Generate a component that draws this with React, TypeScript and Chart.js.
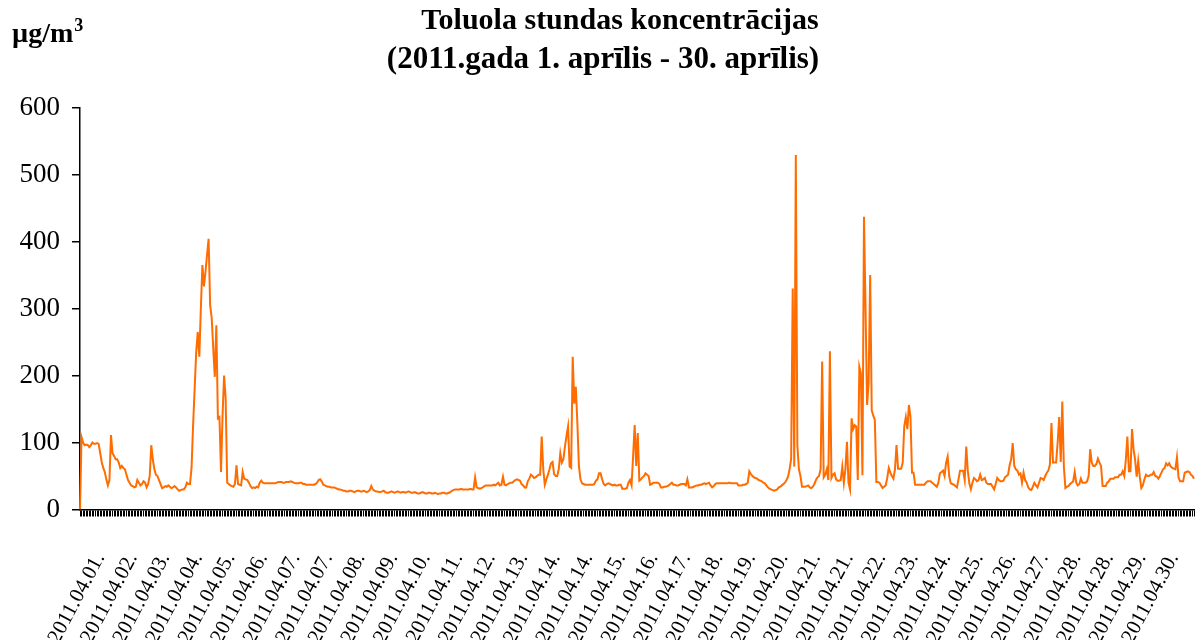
import React, { useEffect, useRef } from "react";
import { Chart, registerables } from "chart.js";

Chart.register(...registerables);

const titleLines = ["Toluola stundas koncentrācijas", "(2011.gada 1. aprīlis - 30. aprīlis)"];
const unitText = "µg/m";
const unitSup = "3";

const tickLabels = [
  "2011.04.01.", "2011.04.02.", "2011.04.03.", "2011.04.04.", "2011.04.05.", "2011.04.06.",
  "2011.04.07.", "2011.04.07.", "2011.04.08.", "2011.04.09.", "2011.04.10.", "2011.04.11.",
  "2011.04.12.", "2011.04.13.", "2011.04.14.", "2011.04.14.", "2011.04.15.", "2011.04.16.",
  "2011.04.17.", "2011.04.18.", "2011.04.19.", "2011.04.20.", "2011.04.21.", "2011.04.21.",
  "2011.04.22.", "2011.04.23.", "2011.04.24.", "2011.04.25.", "2011.04.26.", "2011.04.27.",
  "2011.04.28.", "2011.04.28.", "2011.04.29.", "2011.04.30.",
];
const LABEL_EVERY = 21;
const LABEL_OFFSET = 13;

const yTicks = [0, 100, 200, 300, 400, 500, 600];

// hourly values, µg/m3, one array per day (24 hours)
const day01 = [0,108,100,96,97,96,93,96,100,98,98,99,98,85,71,62,56,45,36,44,111,84,80,75];
const day02 = [75,70,62,65,62,60,52,44,40,36,35,33,34,44,40,36,38,42,40,33,38,50,96,75];
const day03 = [60,52,50,44,38,32,33,35,34,36,34,32,33,35,33,30,28,29,30,30,33,40,38,38];
const day04 = [62,126,180,235,265,228,300,365,333,355,380,404,305,286,240,198,275,136,138,56,140,200,166,40];
const day05 = [38,36,35,34,38,66,38,37,36,56,46,45,44,40,35,32,33,32,34,33,40,43,40,39];
const day06 = [39,39,39,39,39,39,39,40,41,41,41,40,40,41,41,41,42,41,40,39,39,39,40,40];
const day07 = [38,38,37,37,37,37,37,37,38,40,44,45,42,37,36,35,34,34,33,33,33,32,31,30];
const day08 = [30,29,28,28,27,27,28,28,27,26,27,28,28,27,27,28,27,26,27,29,35,30,28,27];
const day09 = [27,26,26,27,28,26,25,25,26,27,26,25,26,27,26,25,26,26,25,26,27,26,25,25];
const day10 = [26,25,24,24,25,26,25,24,24,25,25,24,24,25,24,23,24,24,25,25,24,24,25,26];
const day11 = [28,29,30,30,30,30,31,30,30,30,30,30,31,30,30,48,33,32,31,32,33,35,36,36];
const day12 = [36,36,36,37,36,38,40,36,37,49,37,36,38,39,40,40,42,44,45,44,43,38,36,33];
const day13 = [33,42,46,52,50,47,48,50,52,52,109,60,37,45,52,60,69,71,53,50,50,60,84,70];
const day14 = [75,94,110,124,64,62,228,158,183,130,65,45,39,38,37,37,37,37,37,37,38,43,45,54];
const day15 = [54,45,38,36,38,39,38,37,36,37,36,36,37,37,31,31,31,32,40,44,36,80,126,65];
const day16 = [114,43,45,48,50,54,52,50,37,38,40,40,40,40,38,33,33,34,34,35,36,38,40,37];
const day17 = [37,36,36,37,38,38,38,36,45,33,33,33,34,35,36,36,37,37,38,39,38,39,40,36];
const day18 = [33,35,38,39,39,39,39,39,39,39,39,40,39,39,39,39,39,36,36,36,37,37,38,40];
const day19 = [57,53,50,48,47,46,44,43,42,40,39,36,33,31,30,29,28,29,30,33,34,36,38,40];
const day20 = [44,49,60,76,330,64,529,96,60,50,34,34,34,35,36,33,32,34,38,44,48,50,60,221];
const day21 = [48,52,60,44,236,47,52,54,45,43,43,44,64,40,60,101,40,30,136,120,126,124,44,213];
const day22 = [203,51,437,300,156,189,350,148,140,134,41,41,40,36,32,34,36,47,62,55,50,46,60,96];
const day23 = [61,61,61,70,124,138,120,156,138,55,55,37,37,37,37,37,37,37,40,42,42,42,40,38];
const day24 = [36,34,40,54,56,58,50,70,79,50,39,38,37,35,33,45,58,58,58,44,94,58,39,30];
const day25 = [40,47,45,42,44,52,44,45,47,40,38,38,38,34,30,38,47,44,42,42,43,48,50,52];
const day26 = [66,75,99,65,60,58,52,54,40,55,44,40,33,30,29,34,40,36,33,40,47,46,44,50];
const day27 = [55,58,67,129,70,70,70,100,138,71,161,64,32,34,35,38,40,42,56,40,36,38,46,40];
const day28 = [40,40,42,50,90,70,65,65,68,76,70,65,35,35,35,40,42,46,46,46,48,48,48,52];
const day29 = [52,57,50,74,109,57,57,120,90,74,49,72,49,32,36,45,52,50,50,52,52,56,50,49];
const day30 = [46,50,55,60,62,69,66,69,64,62,61,60,78,48,42,42,42,55,56,57,56,52,50,46];

const days = [
  day01, day02, day03, day04, day05, day06, day07, day08, day09, day10,
  day11, day12, day13, day14, day15, day16, day17, day18, day19, day20,
  day21, day22, day23, day24, day25, day26, day27, day28, day29, day30,
];

const values: number[] = days.flat();
const categories: string[] = [];
days.forEach((d, di) => {
  d.forEach((_, h) => {
    const dd = String(di + 1).padStart(2, "0");
    const hh = String(h).padStart(2, "0");
    categories.push(`2011.04.${dd}. ${hh}:00`);
  });
});

const SERIF = '"Liberation Serif", "Times New Roman", serif';

const textPlugin = {
  id: "customText",
  afterDraw(chart: any) {
    const ctx = chart.ctx;
    ctx.save();
    ctx.fillStyle = "#000";
    ctx.textBaseline = "alphabetic";
    ctx.textAlign = "center";
    ctx.font = `bold 30px ${SERIF}`;
    ctx.fillText(titleLines[0], 620, 29);
    ctx.font = `bold 31px ${SERIF}`;
    ctx.fillText(titleLines[1], 603, 68);
    ctx.textAlign = "left";
    ctx.font = `bold 28px ${SERIF}`;
    ctx.fillText(unitText, 12, 42);
    const w = ctx.measureText(unitText).width;
    ctx.font = `bold 18px ${SERIF}`;
    ctx.fillText(unitSup, 12 + w + 1, 31);
    ctx.restore();
  },
};

export default function App() {
  const ref = useRef<HTMLCanvasElement | null>(null);
  useEffect(() => {
    if (!ref.current) return;
    const chart = new Chart(ref.current, {
      type: "line",
      data: {
        labels: categories,
        datasets: [
          {
            data: values,
            borderColor: "rgb(255,108,0)",
            borderWidth: 2,
            pointRadius: 0,
            tension: 0,
            fill: false,
          },
        ],
      },
      options: {
        animation: false,
        responsive: false,
        devicePixelRatio: 1,
        layout: { padding: { top: 107.5, left: 0, right: 1, bottom: 0 } },
        plugins: { legend: { display: false }, title: { display: false }, tooltip: { enabled: false } },
        scales: {
          x: {
            type: "category",
            offset: false,
            border: { display: true, color: "#000", width: 1.5 },
            grid: { display: true, drawOnChartArea: false, drawTicks: true, tickLength: 7, color: "#000", lineWidth: 1 },
            ticks: {
              autoSkip: false,
              minRotation: 62,
              maxRotation: 62,
              padding: 32,
              color: "#000",
              font: { family: SERIF, size: 21 },
              callback: (value: any, index: number) => {
                const k = index - LABEL_OFFSET;
                if (k >= 0 && k % LABEL_EVERY === 0) {
                  const j = k / LABEL_EVERY;
                  return j < tickLabels.length ? tickLabels[j] : "";
                }
                return "";
              },
            },
            afterFit: (scale: any) => {
              scale.height = 130.5;
              scale.paddingLeft = 0;
              scale.paddingRight = 0;
            },
          },
          y: {
            min: 0,
            max: 600,
            border: { display: true, color: "#000", width: 1.5 },
            grid: { display: true, drawOnChartArea: false, drawTicks: true, tickLength: 8, color: "#000", lineWidth: 1.5 },
            afterBuildTicks: (scale: any) => {
              scale.ticks = yTicks.map((v) => ({ value: v }));
            },
            ticks: {
              padding: 12,
              color: "#000",
              font: { family: SERIF, size: 27 },
              callback: (v: any) => String(v),
            },
            afterFit: (scale: any) => {
              scale.width = 80;
            },
          },
        },
      },
      plugins: [textPlugin],
    });
    return () => chart.destroy();
  }, []);
  return (
    <div style={{ position: "absolute", left: 0, top: 0, width: 1195, height: 640, background: "#fff" }}>
      <canvas ref={ref} width={1195} height={640} style={{ width: 1195, height: 640 }} />
    </div>
  );
}
